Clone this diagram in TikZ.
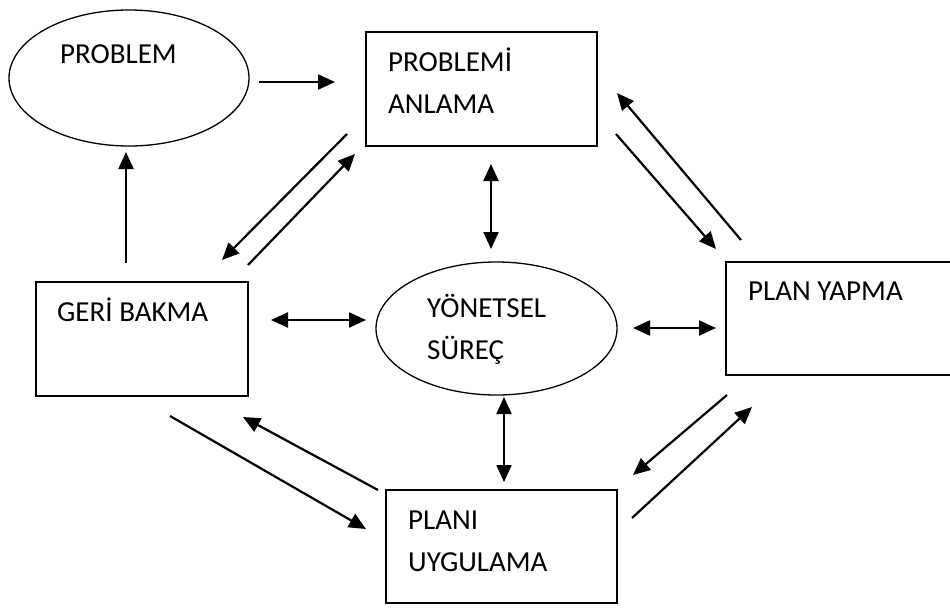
\documentclass[tikz,border=0pt]{standalone}
\usepackage{fontspec}
\setmainfont{Carlito}
\usetikzlibrary{shapes.geometric,arrows.meta}

\tikzset{
 kutu/.style={draw, line width=1.5pt, rectangle, inner sep=0pt},
 oval/.style={draw, line width=1.3pt, ellipse, inner sep=0pt},
 yazi/.style={font=\fontsize{29}{42}\selectfont, align=left, inner sep=0pt, anchor=base west},
 ok/.style={line width=2.2pt, -{Triangle[length=17pt,width=15pt]}},
 cok/.style={line width=2.2pt, {Triangle[length=17pt,width=15pt]}-{Triangle[length=17pt,width=15pt]}}
}

\begin{document}
\begin{tikzpicture}[x=1pt, y=-1pt]
 \useasboundingbox (0,0) rectangle (950,608);
 \clip (0,0) rectangle (950,608);

 \node[oval, minimum width=240pt, minimum height=136pt] (P) at (129,78) {};
 \node[kutu, minimum width=231pt, minimum height=114pt] (A) at (481.5,89) {};
 \node[kutu, minimum width=234pt, minimum height=113pt] (Y) at (843,318.5) {};
 \node[kutu, minimum width=212pt, minimum height=114pt] (G) at (142,339) {};
 \node[oval, minimum width=241pt, minimum height=133pt] (S) at (496.5,328.5) {};
 \node[kutu, minimum width=231pt, minimum height=113pt] (U) at (501.5,546.5) {};

 % base of a two line text sits on its last line
 \node[yazi] (Pt) at (60,63) {PROBLEM};
 \node[yazi] (At) at (388,113) {PROBLEMİ\\ANLAMA};
 \node[yazi] (Yt) at (748,300) {PLAN YAPMA};
 \node[yazi] (Gt) at (57,321) {GERİ BAKMA};
 \node[yazi] (St) at (427,359) {YÖNETSEL\\SÜREÇ};
 \node[yazi] (Ut) at (408,571) {PLANI\\UYGULAMA};

 \coordinate (pa1) at (259,82);  \coordinate (pa2) at (335,82);
 \coordinate (gp1) at (126,263); \coordinate (gp2) at (126,152);
 \coordinate (ag1) at (347,134); \coordinate (ag2) at (222,260);
 \coordinate (ga1) at (248,265); \coordinate (ga2) at (355,154);
 \coordinate (as1) at (491,164); \coordinate (as2) at (491,249);
 \coordinate (ay1) at (616,134); \coordinate (ay2) at (716,249);
 \coordinate (ya1) at (741,240); \coordinate (ya2) at (617,93);
 \coordinate (gs1) at (271,320); \coordinate (gs2) at (366,320);
 \coordinate (sy1) at (633,328); \coordinate (sy2) at (716,328);
 \coordinate (su1) at (504,397); \coordinate (su2) at (504,482);
 \coordinate (gu1) at (170,416); \coordinate (gu2) at (366,529);
 \coordinate (ug1) at (378,490); \coordinate (ug2) at (243,417);
 \coordinate (yu1) at (727,395); \coordinate (yu2) at (633,475);
 \coordinate (uy1) at (632,518); \coordinate (uy2) at (752,407);

 \draw[ok] (pa1) -- (pa2);
 \draw[ok] (gp1) -- (gp2);
 \draw[ok] (ag1) -- (ag2);
 \draw[ok] (ga1) -- (ga2);
 \draw[cok] (as1) -- (as2);
 \draw[ok] (ay1) -- (ay2);
 \draw[ok] (ya1) -- (ya2);
 \draw[cok] (gs1) -- (gs2);
 \draw[cok] (sy1) -- (sy2);
 \draw[cok] (su1) -- (su2);
 \draw[ok] (gu1) -- (gu2);
 \draw[ok] (ug1) -- (ug2);
 \draw[ok] (yu1) -- (yu2);
 \draw[ok] (uy1) -- (uy2);
\end{tikzpicture}
\end{document}
